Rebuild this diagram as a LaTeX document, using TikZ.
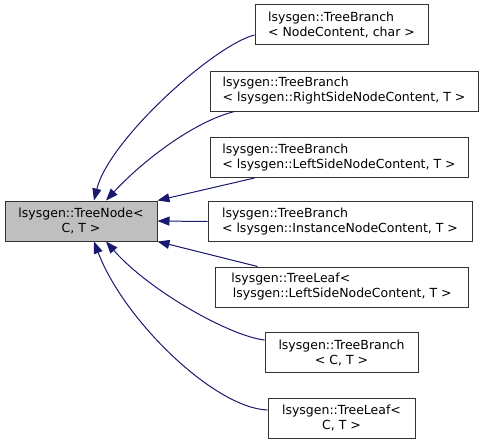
\documentclass[tikz,border=0pt]{standalone}
\usepackage{fontspec}
\setmainfont{DejaVu Sans}
\usepackage{xcolor}
\usetikzlibrary{arrows.meta,positioning}
\definecolor{edgeblue}{HTML}{191970}
\definecolor{basegray}{HTML}{BFBFBF}
\tikzset{
	cls/.style={draw=black!80,line width=1pt,fill=white,font=\fontsize{12.5}{15}\selectfont,minimum height=40pt,inner sep=2pt},
	inh/.style={edgeblue,line width=1pt,-{Triangle[length=12pt,width=9pt]}}
}

\begin{document}
\begin{tikzpicture}[x=1pt,y=-1pt]
	\useasboundingbox (0,0) rectangle (484,444);
	\node[cls,fill=basegray,minimum width=152pt,align=center] (base) at (81,221) {lsysgen::TreeNode<\\C, T >};
	\foreach \n/\x/\y/\w/\a/\t in {b1/341.5/25/173/left/{lsysgen::TreeBranch\\< NodeContent, char >},b2/344/91/268/left/{lsysgen::TreeBranch\\< lsysgen::RightSideNodeContent, T >},b3/339/157.5/258/left/{lsysgen::TreeBranch\\< lsysgen::LeftSideNodeContent, T >},b4/340/221.5/264/left/{lsysgen::TreeBranch\\< lsysgen::InstanceNodeContent, T >},b5/341.5/287/253/left/{lsysgen::TreeLeaf<\\\hspace*{1.5pt}lsysgen::LeftSideNodeContent, T >},b6/341.5/352.5/153/center/{lsysgen::TreeBranch\\< C, T >},b7/341.5/418/147/center/{lsysgen::TreeLeaf<\\C, T >}}
		\node[cls,minimum width=\w pt,align=\a] (\n) at (\x,\y) {\t};
	\draw[inh] ([yshift=-10pt]b1.west) .. controls +(-40,10) and +(15,-61) .. ([xshift=13pt]base.north);
	\draw[inh] ([xshift=25pt]b2.south west) .. controls +(-40,10) and +(38,-41) .. ([xshift=25pt]base.north);
	\draw[inh] ([xshift=45pt]b3.south west) -- (base.north east);
	\draw[inh] (b4.west) -- (base.east);
	\draw[inh] ([xshift=43pt]b5.north west) -- (base.south east);
	\draw[inh] ([yshift=12.5pt]b6.west) .. controls +(-35,-4) and +(43,49) .. ([xshift=25pt]base.south);
	\draw[inh] ([yshift=8pt]b7.west) .. controls +(-53,-2) and +(30,79) .. ([xshift=13pt]base.south);
\end{tikzpicture}
\end{document}
